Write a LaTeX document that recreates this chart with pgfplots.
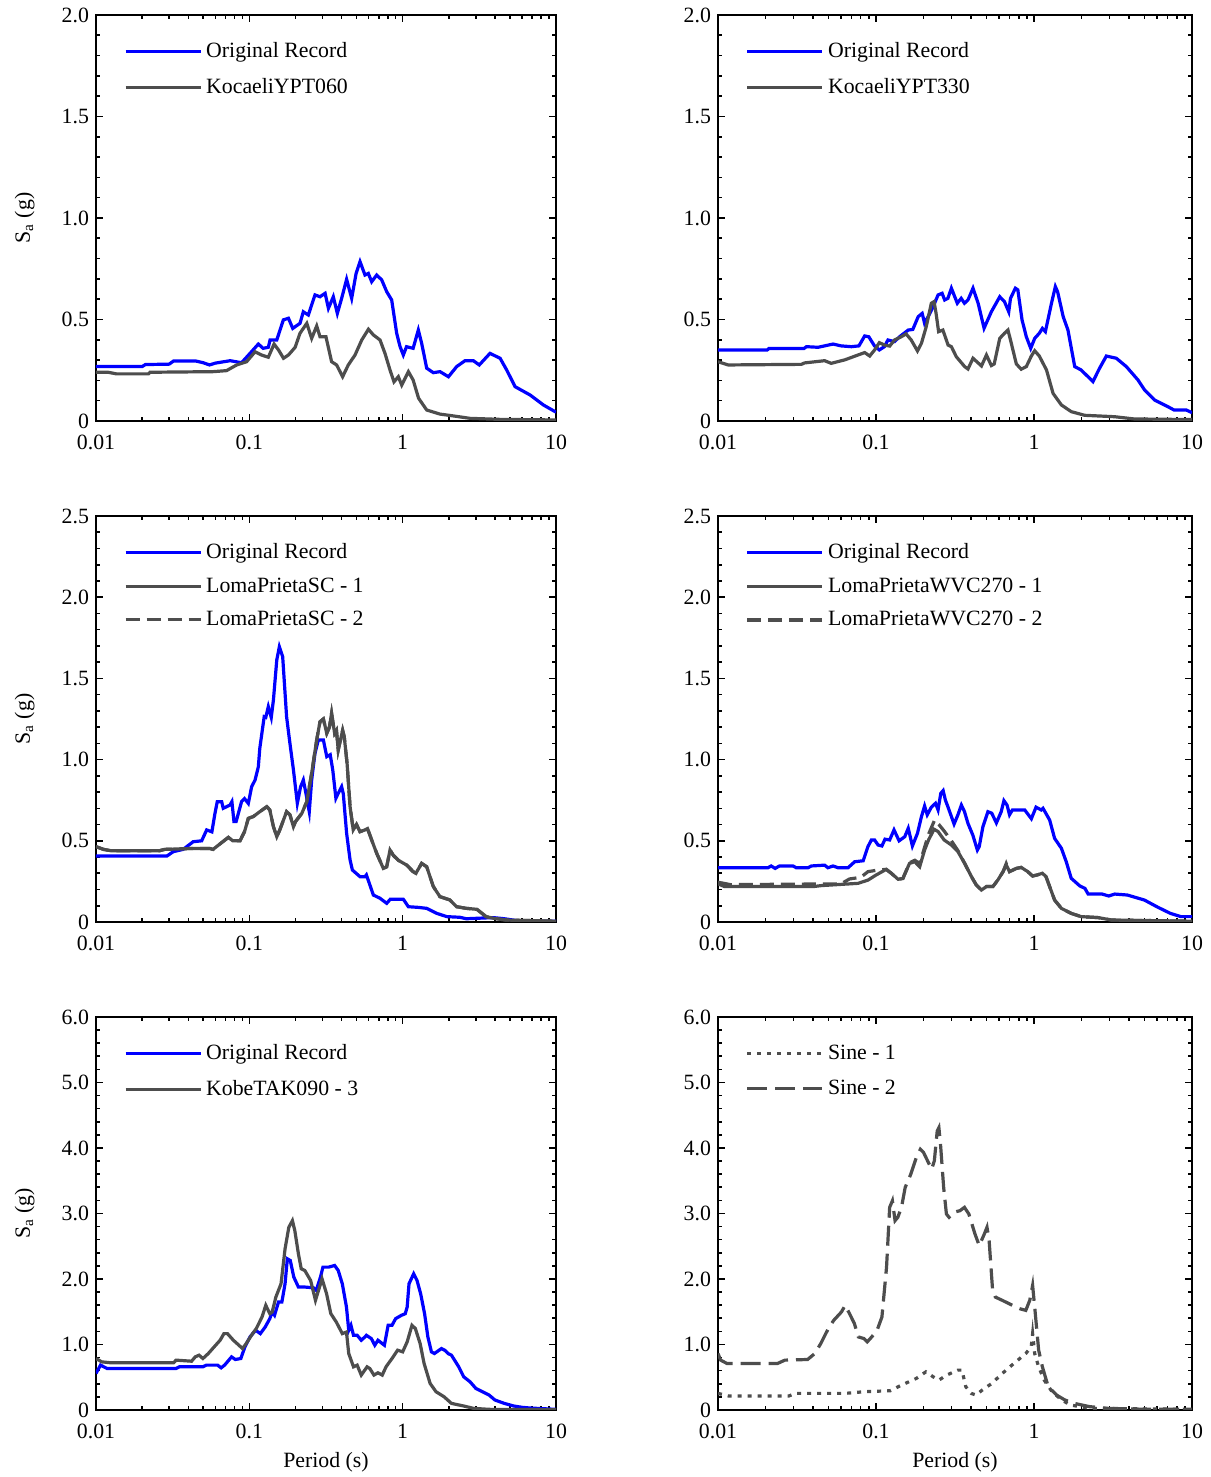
\documentclass[border=0pt]{standalone}
\usepackage{fontspec}
\setmainfont{Liberation Serif}
\usepackage{pgfplots}
\pgfplotsset{compat=1.18}
\definecolor{origblue}{RGB}{0,0,255}
\definecolor{dgray}{RGB}{77,77,77}
\newcommand{\fsz}{\fontsize{10.9}{13}\selectfont}
\pgfplotsset{
 mypanel/.style={
  scale only axis, xmin=0.01, xmax=10, ymin=0,
  xtick={0.01,0.1,1,10}, xticklabels={0.01,0.1,1,10},
  minor xtick={0.02,0.03,0.04,0.05,0.06,0.07,0.08,0.09,0.2,0.3,0.4,0.5,0.6,0.7,0.8,0.9,2,3,4,5,6,7,8,9},
  axis line style={line width=1.2pt},
  major tick length=3.5pt, minor tick length=2pt,
  every tick/.style={black, line width=0.8pt},
  tick align=inside,
  font=\fsz, tick label style={font=\fsz},
  xticklabel style={yshift=-3.5pt},
  /pgf/number format/assume math mode=true,
  legend cell align=left,
  legend style={draw=none, fill=none, anchor=north west, font=\fsz, row sep=5pt, inner sep=0pt},
  legend image code/.code={\draw[##1] (0pt,0pt) -- (37.5pt,0pt);},
 },
 myyA/.style={ymax=2, ytick={0,0.5,1,1.5,2}, yticklabels={0,0.5,1.0,1.5,2.0}, minor y tick num=4},
 myyB/.style={ymax=2.5, ytick={0,0.5,1,1.5,2,2.5}, yticklabels={0,0.5,1.0,1.5,2.0,2.5}, minor y tick num=4},
 myyC/.style={ymax=6, ytick={0,1,2,3,4,5,6}, yticklabels={0,1.0,2.0,3.0,4.0,5.0,6.0}, minor y tick num=4},
 mysal/.style={ylabel={S\textsubscript{a} (g)}, ylabel style={at={(axis description cs:-0.155,0.5)}, anchor=center}},
 myperl/.style={xlabel={Period (s)}, xlabel style={at={(axis description cs:0.5,-0.132)}, anchor=center}},
 mybl/.style={origblue, line width=1.6pt},
 mygl/.style={dgray, line width=1.6pt},
}
\begin{document}
\begin{tikzpicture}
\useasboundingbox (0,0) rectangle (605pt,738.5pt);
% Panel 1
\begin{semilogxaxis}[mypanel, myyA, mysal, at={(48pt,528pt)}, anchor=south west, width=230pt, height=203pt, legend style={at={(axis description cs:0.06,0.943)}}]
\addplot[mybl] coordinates {(0.01,0.268)(0.02,0.268)(0.021,0.278)(0.03,0.28)(0.032,0.295)(0.045,0.295)(0.05,0.287)(0.055,0.276)(0.06,0.285)(0.075,0.297)(0.089,0.287)(0.101,0.333)(0.1145,0.379)(0.123,0.358)(0.133,0.363)(0.1365,0.399)(0.151,0.399)(0.1667,0.498)(0.18,0.506)(0.192,0.456)(0.214,0.481)(0.225,0.538)(0.2425,0.522)(0.268,0.621)(0.289,0.612)(0.312,0.629)(0.328,0.555)(0.353,0.612)(0.375,0.530)(0.40,0.604)(0.431,0.698)(0.465,0.604)(0.497,0.727)(0.527,0.785)(0.568,0.719)(0.597,0.727)(0.628,0.686)(0.677,0.719)(0.73,0.695)(0.787,0.637)(0.848,0.596)(0.914,0.432)(0.962,0.366)(1.01,0.325)(1.06,0.366)(1.17,0.358)(1.265,0.448)(1.33,0.383)(1.435,0.26)(1.585,0.238)(1.753,0.243)(1.99,0.218)(2.25,0.268)(2.55,0.297)(2.89,0.297)(3.16,0.276)(3.71,0.333)(4.32,0.309)(4.77,0.251)(5.41,0.169)(6.78,0.128)(8.27,0.079)(9.86,0.046)(10,0.045)};
\addlegendentry{Original Record}
\addplot[mygl] coordinates {(0.01,0.24)(0.012,0.24)(0.0136,0.232)(0.022,0.232)(0.0225,0.24)(0.058,0.243)(0.071,0.248)(0.0827,0.276)(0.096,0.292)(0.109,0.341)(0.12,0.325)(0.133,0.314)(0.145,0.379)(0.155,0.35)(0.167,0.309)(0.18,0.325)(0.199,0.363)(0.214,0.432)(0.237,0.481)(0.255,0.407)(0.275,0.468)(0.289,0.415)(0.316,0.415)(0.344,0.292)(0.371,0.276)(0.406,0.218)(0.442,0.276)(0.489,0.325)(0.541,0.399)(0.598,0.452)(0.644,0.424)(0.712,0.399)(0.767,0.333)(0.827,0.251)(0.878,0.193)(0.937,0.218)(0.986,0.177)(1.09,0.243)(1.17,0.202)(1.27,0.112)(1.435,0.054)(1.75,0.034)(2.14,0.025)(2.75,0.013)(4.3,0.008)(10,0.005)};
\addlegendentry{KocaeliYPT060}
\end{semilogxaxis}
% Panel 2
\begin{semilogxaxis}[mypanel, myyA, at={(359pt,528pt)}, anchor=south west, width=237pt, height=203pt, legend style={at={(axis description cs:0.058,0.943)}}]
\addplot[mybl] coordinates {(0.01,0.35)(0.0205,0.35)(0.021,0.357)(0.035,0.357)(0.0363,0.366)(0.043,0.363)(0.0535,0.379)(0.06,0.37)(0.0698,0.366)(0.078,0.37)(0.0848,0.419)(0.09,0.415)(0.098,0.369)(0.105,0.35)(0.113,0.366)(0.119,0.399)(0.131,0.391)(0.141,0.415)(0.16,0.448)(0.171,0.451)(0.185,0.514)(0.196,0.530)(0.203,0.481)(0.219,0.530)(0.23,0.563)(0.247,0.621)(0.262,0.629)(0.272,0.596)(0.285,0.604)(0.3,0.654)(0.315,0.612)(0.327,0.58)(0.346,0.604)(0.363,0.58)(0.382,0.596)(0.411,0.654)(0.443,0.58)(0.483,0.457)(0.537,0.538)(0.607,0.612)(0.65,0.588)(0.692,0.538)(0.71,0.604)(0.762,0.654)(0.79,0.646)(0.84,0.498)(0.894,0.415)(0.953,0.358)(1.01,0.407)(1.08,0.432)(1.13,0.456)(1.18,0.44)(1.29,0.58)(1.365,0.662)(1.41,0.637)(1.53,0.514)(1.64,0.448)(1.81,0.268)(1.99,0.251)(2.36,0.194)(2.6,0.26)(2.87,0.32)(3.32,0.309)(3.84,0.268)(4.55,0.202)(5.01,0.153)(5.8,0.103)(7.05,0.07)(7.7,0.054)(9.2,0.054)(10,0.041)};
\addlegendentry{Original Record}
\addplot[mygl] coordinates {(0.01,0.292)(0.0116,0.276)(0.0337,0.279)(0.0353,0.286)(0.0473,0.297)(0.052,0.284)(0.0634,0.301)(0.0769,0.325)(0.0848,0.337)(0.0912,0.32)(0.098,0.35)(0.105,0.386)(0.113,0.374)(0.122,0.369)(0.131,0.399)(0.1445,0.415)(0.155,0.429)(0.167,0.399)(0.183,0.345)(0.194,0.383)(0.208,0.465)(0.224,0.58)(0.233,0.588)(0.24,0.53)(0.249,0.44)(0.265,0.448)(0.286,0.374)(0.3,0.366)(0.322,0.317)(0.364,0.268)(0.382,0.256)(0.411,0.309)(0.465,0.271)(0.5,0.325)(0.537,0.273)(0.56,0.281)(0.607,0.407)(0.65,0.432)(0.684,0.448)(0.71,0.399)(0.773,0.281)(0.83,0.255)(0.894,0.268)(0.962,0.32)(1.01,0.346)(1.08,0.32)(1.2,0.251)(1.32,0.136)(1.49,0.079)(1.72,0.046)(2.09,0.028)(3.24,0.021)(4.3,0.01)(10,0.007)};
\addlegendentry{KocaeliYPT330}
\end{semilogxaxis}
% Panel 3
\begin{semilogxaxis}[mypanel, myyB, mysal, at={(48pt,277.5pt)}, anchor=south west, width=230pt, height=203pt, legend style={at={(axis description cs:0.06,0.943)}, row sep=4pt}]
\addplot[mybl] coordinates {(0.01,0.406)(0.029,0.406)(0.0319,0.433)(0.037,0.447)(0.043,0.494)(0.0489,0.50)(0.0527,0.567)(0.057,0.555)(0.0597,0.669)(0.0618,0.741)(0.066,0.741)(0.0676,0.70)(0.0748,0.72)(0.077,0.741)(0.0794,0.618)(0.082,0.618)(0.089,0.741)(0.093,0.76)(0.0985,0.73)(0.1035,0.833)(0.109,0.874)(0.1145,0.956)(0.117,1.069)(0.125,1.264)(0.128,1.26)(0.133,1.326)(0.139,1.26)(0.1436,1.367)(0.151,1.613)(0.157,1.695)(0.165,1.634)(0.175,1.264)(0.184,1.10)(0.194,0.936)(0.2056,0.731)(0.216,0.833)(0.225,0.874)(0.234,0.792)(0.246,0.679)(0.255,0.874)(0.268,1.039)(0.282,1.121)(0.304,1.121)(0.32,1.018)(0.337,1.03)(0.35,0.936)(0.367,0.762)(0.38,0.792)(0.40,0.833)(0.41,0.79)(0.431,0.546)(0.454,0.382)(0.47,0.32)(0.527,0.279)(0.568,0.279)(0.58,0.29)(0.644,0.166)(0.712,0.146)(0.787,0.115)(0.83,0.14)(1.01,0.14)(1.09,0.094)(1.265,0.09)(1.435,0.084)(1.67,0.053)(1.94,0.033)(2.36,0.029)(2.6,0.02)(3.9,0.027)(4.6,0.02)(5.8,0.006)(10,0.004)};
\addlegendentry{Original Record}
\addplot[mygl] coordinates {(0.01,0.464)(0.0112,0.447)(0.0125,0.439)(0.026,0.439)(0.028,0.447)(0.043,0.453)(0.055,0.453)(0.058,0.447)(0.063,0.474)(0.073,0.521)(0.078,0.50)(0.087,0.50)(0.093,0.556)(0.0985,0.638)(0.106,0.649)(0.117,0.679)(0.13,0.71)(0.136,0.69)(0.1436,0.587)(0.151,0.525)(0.158,0.567)(0.167,0.628)(0.175,0.679)(0.184,0.66)(0.194,0.587)(0.2,0.618)(0.22,0.669)(0.237,0.741)(0.255,0.916)(0.275,1.121)(0.289,1.233)(0.304,1.25)(0.32,1.162)(0.333,1.2)(0.344,1.285)(0.36,1.162)(0.37,1.18)(0.38,1.059)(0.406,1.18)(0.416,1.14)(0.434,0.977)(0.454,0.71)(0.476,0.567)(0.5,0.6)(0.527,0.556)(0.568,0.567)(0.59,0.575)(0.628,0.505)(0.677,0.423)(0.748,0.33)(0.787,0.34)(0.827,0.443)(0.87,0.41)(0.937,0.38)(1.06,0.351)(1.17,0.31)(1.22,0.30)(1.33,0.361)(1.435,0.34)(1.585,0.218)(1.75,0.156)(2.03,0.136)(2.25,0.094)(2.6,0.084)(3.05,0.078)(3.5,0.033)(3.9,0.023)(4.7,0.012)(10,0.005)};
\addlegendentry{LomaPrietaSC - 1}
\addplot[mygl, dash pattern=on 7pt off 3.5pt] coordinates {(0.01,0.464)(0.0112,0.447)(0.0125,0.439)(0.026,0.439)(0.028,0.447)(0.043,0.453)(0.055,0.453)(0.058,0.447)(0.063,0.474)(0.073,0.521)(0.078,0.50)(0.087,0.50)(0.093,0.556)(0.0985,0.638)(0.106,0.649)(0.117,0.679)(0.13,0.71)(0.136,0.69)(0.1436,0.587)(0.151,0.525)(0.158,0.567)(0.167,0.628)(0.175,0.679)(0.184,0.66)(0.194,0.587)(0.2,0.618)(0.22,0.669)(0.237,0.741)(0.255,0.916)(0.275,1.121)(0.289,1.233)(0.304,1.25)(0.32,1.162)(0.333,1.2)(0.344,1.285)(0.36,1.162)(0.37,1.18)(0.38,1.059)(0.406,1.18)(0.416,1.14)(0.434,0.977)(0.454,0.71)(0.476,0.567)(0.5,0.6)(0.527,0.556)(0.568,0.567)(0.59,0.575)(0.628,0.505)(0.677,0.423)(0.748,0.33)(0.787,0.34)(0.827,0.443)(0.87,0.41)(0.937,0.38)(1.06,0.351)(1.17,0.31)(1.22,0.30)(1.33,0.361)(1.435,0.34)(1.585,0.218)(1.75,0.156)(2.03,0.136)(2.25,0.094)(2.6,0.084)(3.05,0.078)(3.5,0.033)(3.9,0.023)(4.7,0.012)(10,0.005)};
\addlegendentry{LomaPrietaSC - 2}
\end{semilogxaxis}
% Panel 4
\begin{semilogxaxis}[mypanel, myyB, at={(359pt,277.5pt)}, anchor=south west, width=237pt, height=203pt, legend style={at={(axis description cs:0.058,0.943)}, row sep=4pt}]
\addplot[mybl] coordinates {(0.01,0.334)(0.0207,0.334)(0.0217,0.345)(0.023,0.33)(0.0245,0.345)(0.0298,0.345)(0.0313,0.334)(0.0371,0.334)(0.039,0.345)(0.0473,0.35)(0.0496,0.334)(0.0535,0.345)(0.0575,0.334)(0.0665,0.334)(0.0733,0.371)(0.083,0.377)(0.0889,0.464)(0.0935,0.505)(0.098,0.505)(0.103,0.474)(0.109,0.468)(0.114,0.51)(0.122,0.505)(0.13,0.567)(0.14,0.50)(0.152,0.525)(0.16,0.577)(0.17,0.468)(0.183,0.546)(0.194,0.649)(0.203,0.714)(0.211,0.66)(0.224,0.707)(0.238,0.731)(0.247,0.69)(0.257,0.792)(0.266,0.809)(0.275,0.75)(0.285,0.71)(0.312,0.603)(0.33,0.66)(0.347,0.72)(0.363,0.68)(0.382,0.607)(0.41,0.535)(0.438,0.443)(0.45,0.464)(0.475,0.587)(0.511,0.679)(0.54,0.67)(0.578,0.61)(0.62,0.679)(0.645,0.747)(0.675,0.72)(0.7,0.66)(0.73,0.69)(0.873,0.69)(0.962,0.636)(1.03,0.707)(1.11,0.69)(1.14,0.70)(1.256,0.628)(1.35,0.515)(1.49,0.454)(1.6,0.371)(1.72,0.269)(1.95,0.222)(2.1,0.207)(2.2,0.172)(2.7,0.172)(2.97,0.16)(3.24,0.172)(3.9,0.166)(5.0,0.135)(6.1,0.09)(7.3,0.053)(8.5,0.033)(10,0.033)};
\addlegendentry{Original Record}
\addplot[mygl] coordinates {(0.01,0.235)(0.011,0.218)(0.04,0.218)(0.045,0.224)(0.077,0.238)(0.089,0.258)(0.1,0.289)(0.116,0.324)(0.125,0.30)(0.138,0.263)(0.148,0.268)(0.163,0.361)(0.176,0.371)(0.189,0.34)(0.203,0.443)(0.215,0.505)(0.233,0.571)(0.247,0.557)(0.27,0.505)(0.3,0.474)(0.33,0.433)(0.364,0.361)(0.402,0.279)(0.431,0.228)(0.465,0.197)(0.5,0.218)(0.549,0.218)(0.59,0.258)(0.637,0.31)(0.667,0.351)(0.7,0.31)(0.773,0.33)(0.83,0.336)(0.913,0.31)(0.98,0.283)(1.05,0.29)(1.13,0.30)(1.19,0.28)(1.256,0.218)(1.35,0.135)(1.49,0.084)(1.72,0.053)(1.99,0.033)(2.55,0.027)(3.1,0.012)(10,0.005)};
\addlegendentry{LomaPrietaWVC270 - 1}
\addplot[mygl, dash pattern=on 7pt off 3.5pt] coordinates {(0.01,0.245)(0.012,0.23)(0.06,0.235)(0.068,0.265)(0.08,0.275)(0.089,0.31)(0.103,0.32)(0.116,0.324)(0.125,0.30)(0.138,0.263)(0.148,0.268)(0.163,0.365)(0.176,0.38)(0.189,0.36)(0.203,0.46)(0.215,0.54)(0.235,0.628)(0.25,0.60)(0.27,0.56)(0.3,0.50)(0.33,0.44)(0.364,0.361)(0.402,0.279)(0.431,0.228)(0.465,0.197)(0.5,0.218)(0.549,0.218)(0.59,0.258)(0.637,0.31)(0.667,0.36)(0.7,0.31)(0.773,0.33)(0.83,0.336)(0.913,0.31)(0.98,0.283)(1.05,0.29)(1.13,0.30)(1.19,0.28)(1.256,0.218)(1.35,0.135)(1.49,0.084)(1.72,0.053)(1.99,0.033)(2.55,0.027)(3.1,0.012)(10,0.005)};
\addlegendentry{LomaPrietaWVC270 - 2}
\end{semilogxaxis}
% Panel 5
\begin{semilogxaxis}[mypanel, myyC, mysal, myperl, at={(48pt,33.5pt)}, anchor=south west, width=230pt, height=196.5pt, legend style={at={(axis description cs:0.06,0.941)}}]
\addplot[mybl] coordinates {(0.01,0.558)(0.0107,0.685)(0.0118,0.634)(0.0333,0.634)(0.035,0.66)(0.0498,0.66)(0.0525,0.685)(0.0621,0.685)(0.0655,0.644)(0.069,0.685)(0.0766,0.811)(0.081,0.771)(0.088,0.786)(0.0936,0.964)(0.101,1.116)(0.11,1.217)(0.118,1.166)(0.127,1.268)(0.136,1.395)(0.141,1.496)(0.146,1.446)(0.155,1.648)(0.163,1.648)(0.171,1.927)(0.177,2.308)(0.185,2.282)(0.195,2.029)(0.209,1.877)(0.23,1.877)(0.262,1.866)(0.273,1.826)(0.291,2.029)(0.302,2.181)(0.329,2.181)(0.36,2.206)(0.38,2.13)(0.404,1.927)(0.43,1.572)(0.445,1.217)(0.46,1.293)(0.478,1.141)(0.505,1.141)(0.537,1.065)(0.568,1.116)(0.58,1.14)(0.625,1.09)(0.658,0.989)(0.69,1.065)(0.736,1.014)(0.76,0.989)(0.804,1.293)(0.852,1.293)(0.9,1.395)(0.982,1.446)(1.04,1.47)(1.07,1.572)(1.10,1.927)(1.18,2.08)(1.24,1.98)(1.31,1.775)(1.39,1.47)(1.46,1.116)(1.54,0.888)(1.61,0.862)(1.79,0.938)(1.88,0.913)(1.98,0.862)(2.08,0.837)(2.32,0.66)(2.5,0.507)(2.75,0.431)(3.0,0.33)(3.66,0.228)(4.0,0.152)(4.6,0.101)(5.3,0.061)(6.0,0.041)(6.8,0.03)(10,0.01)};
\addlegendentry{Original Record}
\addplot[mygl] coordinates {(0.01,0.786)(0.0109,0.735)(0.0126,0.72)(0.032,0.72)(0.0333,0.761)(0.042,0.745)(0.0444,0.811)(0.047,0.837)(0.0498,0.786)(0.054,0.862)(0.059,0.964)(0.0645,1.065)(0.0683,1.166)(0.072,1.166)(0.0787,1.065)(0.0855,0.989)(0.0902,0.938)(0.0954,1.014)(0.105,1.166)(0.111,1.243)(0.121,1.42)(0.128,1.598)(0.136,1.471)(0.141,1.496)(0.149,1.725)(0.161,1.927)(0.171,2.46)(0.181,2.79)(0.191,2.891)(0.198,2.739)(0.209,2.384)(0.218,2.156)(0.23,2.13)(0.251,1.978)(0.27,1.674)(0.287,1.877)(0.298,2.003)(0.319,1.775)(0.34,1.471)(0.369,1.344)(0.404,1.166)(0.43,1.19)(0.445,0.862)(0.478,0.659)(0.505,0.685)(0.537,0.533)(0.586,0.659)(0.61,0.634)(0.65,0.533)(0.69,0.568)(0.736,0.533)(0.779,0.659)(0.852,0.786)(0.927,0.913)(1.0,0.888)(1.07,1.04)(1.15,1.293)(1.21,1.243)(1.30,1.014)(1.38,0.71)(1.51,0.406)(1.65,0.279)(1.86,0.203)(2.08,0.101)(2.5,0.061)(2.9,0.025)(3.66,0.01)(10,0.005)};
\addlegendentry{KobeTAK090 - 3}
\end{semilogxaxis}
% Panel 6
\begin{semilogxaxis}[mypanel, myyC, myperl, at={(359pt,33.5pt)}, anchor=south west, width=237pt, height=196.5pt, legend style={at={(axis description cs:0.058,0.941)}}]
\addplot[mygl, dash pattern=on 2pt off 3pt] coordinates {(0.01,0.254)(0.0117,0.213)(0.028,0.213)(0.031,0.254)(0.064,0.254)(0.084,0.279)(0.123,0.294)(0.145,0.38)(0.18,0.482)(0.207,0.583)(0.23,0.507)(0.25,0.456)(0.28,0.533)(0.33,0.609)(0.35,0.609)(0.37,0.355)(0.4,0.254)(0.43,0.228)(0.47,0.304)(0.541,0.406)(0.63,0.558)(0.745,0.71)(0.887,0.862)(0.96,0.964)(0.98,1.166)(1.01,0.862)(1.07,0.659)(1.16,0.456)(1.3,0.279)(1.5,0.152)(1.7,0.076)(2.25,0.025)(10,0.01)};
\addlegendentry{Sine - 1}
\addplot[mygl, dash pattern=on 10pt off 4pt] coordinates {(0.01,0.862)(0.0104,0.761)(0.0114,0.71)(0.0238,0.71)(0.0265,0.761)(0.0369,0.771)(0.041,0.862)(0.0447,1.014)(0.0499,1.243)(0.054,1.369)(0.0604,1.496)(0.0638,1.598)(0.068,1.471)(0.073,1.319)(0.0773,1.116)(0.084,1.09)(0.088,1.04)(0.094,1.116)(0.1016,1.217)(0.109,1.42)(0.1166,2.181)(0.122,3.094)(0.127,3.195)(0.132,2.891)(0.1374,2.942)(0.145,3.094)(0.153,3.398)(0.166,3.6)(0.18,3.855)(0.191,3.981)(0.2,3.931)(0.212,3.804)(0.225,3.677)(0.234,3.804)(0.244,4.26)(0.25,4.311)(0.256,4.057)(0.268,3.398)(0.279,2.992)(0.29,2.942)(0.31,3.018)(0.34,3.043)(0.363,3.094)(0.387,2.992)(0.423,2.688)(0.45,2.51)(0.485,2.688)(0.504,2.79)(0.52,2.586)(0.547,1.826)(0.569,1.724)(0.63,1.674)(0.731,1.598)(0.81,1.547)(0.887,1.521)(0.94,1.674)(0.98,1.902)(1.01,1.572)(1.07,0.913)(1.13,0.659)(1.23,0.355)(1.39,0.228)(1.57,0.152)(1.8,0.101)(2.25,0.051)(2.95,0.025)(5.3,0.01)(10,0.01)};
\addlegendentry{Sine - 2}
\end{semilogxaxis}
\end{tikzpicture}
\end{document}
